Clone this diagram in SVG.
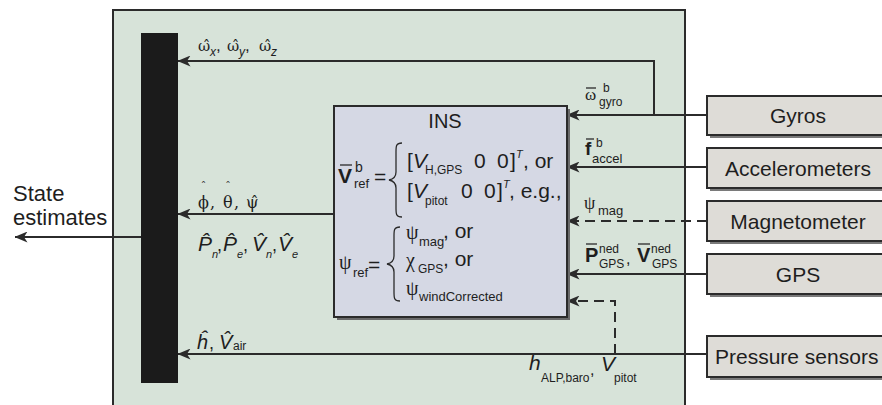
<svg xmlns="http://www.w3.org/2000/svg" width="882" height="405" viewBox="0 0 882 405">
<style>
text{font-family:"Liberation Sans",Arial,sans-serif;fill:#1e1e1e}
.g{font-family:"Liberation Serif","Times New Roman",serif}
.gh{font-family:"DejaVu Serif","Liberation Serif",serif}
.i{font-style:italic}
.b{font-weight:bold}
.ln{fill:none;stroke:#2b2b2b;stroke-width:2}
.dash{stroke-dasharray:10 6}
.bar{stroke:#2b2b2b;stroke-width:1.3}
.box{stroke:#2b2b2b;stroke-width:2}
.sen{fill:#dedcd7}
.sh{fill:#7a7a7a}
</style>
<defs>
<marker id="ah" viewBox="0 0 13 11" refX="12.5" refY="5.5" markerWidth="13" markerHeight="11" markerUnits="userSpaceOnUse" orient="auto">
<path d="M0,0 L13,5.5 L0,11 L3.5,5.5 z" fill="#2b2b2b"/>
</marker>
</defs>
<rect width="882" height="405" fill="#ffffff"/>
<g id="frame">
<rect x="113" y="10" width="572" height="410" fill="#d7e3d9" class="box"/>
</g>
<g id="estimator-bar">
<rect x="141" y="33" width="37" height="350" fill="#1b1b1b"/>
</g>
<g id="connectors">
<polyline class="ln" points="654,115 654,61 178,61" marker-end="url(#ah)"/>
<line class="ln" x1="707" y1="115" x2="567" y2="115" marker-end="url(#ah)"/>
<line class="ln" x1="707" y1="167" x2="567" y2="167" marker-end="url(#ah)"/>
<line class="ln dash" x1="707" y1="221" x2="567" y2="221" marker-end="url(#ah)"/>
<line class="ln" x1="707" y1="274" x2="567" y2="274" marker-end="url(#ah)"/>
<line class="ln" x1="707" y1="354" x2="178" y2="354" marker-end="url(#ah)"/>
<polyline class="ln dash" points="615,354 615,301 567,301" marker-end="url(#ah)"/>
<line class="ln" x1="334" y1="214" x2="178" y2="214" marker-end="url(#ah)"/>
<line class="ln" x1="141" y1="237" x2="15" y2="237" marker-end="url(#ah)"/>
</g>
<g id="ins">
<rect x="337" y="109" width="233" height="211" fill="#6a6a6a"/>
<rect x="334" y="106" width="233" height="211" fill="#d5d8e4" class="box"/>
<text x="445" y="128" font-size="20" text-anchor="middle">INS</text>
<line class="bar" x1="340" y1="165" x2="352" y2="165"/>
<text><tspan x="338" y="183" font-size="21" class="b">V</tspan><tspan x="355" y="172" font-size="14">b</tspan><tspan x="354" y="188" font-size="13">ref</tspan><tspan x="374" y="184" font-size="21">=</tspan></text>
<path d="M402,143 C396,143 396,146 396,152 L396,172 C396,177 394,179 389,180 C394,181 396,183 396,188 L396,208 C396,214 396,217 402,217" fill="none" stroke="#2b2b2b" stroke-width="1.3"/>
<text font-size="21"><tspan x="407" y="168">[</tspan><tspan x="413" y="168" class="i">V</tspan><tspan x="425" y="174" font-size="12">H,GPS</tspan><tspan x="474" y="168">0</tspan><tspan x="497" y="168">0</tspan><tspan x="510" y="168">]</tspan><tspan x="516" y="158" font-size="11" class="i">T</tspan><tspan x="523" y="168">, or</tspan></text>
<text font-size="21"><tspan x="407" y="198">[</tspan><tspan x="413" y="198" class="i">V</tspan><tspan x="425" y="205" font-size="12">pitot</tspan><tspan x="461" y="198">0</tspan><tspan x="484" y="198">0</tspan><tspan x="497" y="198">]</tspan><tspan x="503" y="188" font-size="11" class="i">T</tspan><tspan x="509" y="198">, e.g.,</tspan></text>
<text><tspan x="339" y="269" font-size="20" class="g">ψ</tspan><tspan x="353" y="277" font-size="13">ref</tspan><tspan x="368" y="272" font-size="21">=</tspan></text>
<path d="M400,227 C394,227 394,230 394,236 L394,256 C394,261 392,263 387,264 C392,265 394,267 394,272 L394,292 C394,298 394,301 400,301" fill="none" stroke="#2b2b2b" stroke-width="1.3"/>
<text><tspan x="406" y="239" font-size="20" class="g">ψ</tspan><tspan x="419" y="246" font-size="13">mag</tspan><tspan x="443" y="238" font-size="21">, or</tspan></text>
<text><tspan x="406" y="267" font-size="20" class="g">χ</tspan><tspan x="418" y="273" font-size="12">GPS</tspan><tspan x="443" y="266" font-size="21">, or</tspan></text>
<text><tspan x="406" y="295" font-size="20" class="g">ψ</tspan><tspan x="419" y="301" font-size="13">windCorrected</tspan></text>
</g>
<g id="gyros">
<rect x="710" y="99" width="185" height="39" class="sh"/>
<rect x="707" y="96" width="185" height="39" class="box sen"/>
<text x="798" y="123" font-size="21" text-anchor="middle">Gyros</text>
</g>
<g id="accelerometers">
<rect x="710" y="151" width="185" height="40" class="sh"/>
<rect x="707" y="148" width="185" height="40" class="box sen"/>
<text x="798" y="176" font-size="21" text-anchor="middle">Accelerometers</text>
</g>
<g id="magnetometer">
<rect x="710" y="204" width="185" height="40" class="sh"/>
<rect x="707" y="201" width="185" height="40" class="box sen"/>
<text x="798" y="229" font-size="21" text-anchor="middle">Magnetometer</text>
</g>
<g id="gps">
<rect x="710" y="257" width="185" height="40" class="sh"/>
<rect x="707" y="254" width="185" height="40" class="box sen"/>
<text x="798" y="282" font-size="21" text-anchor="middle">GPS</text>
</g>
<g id="pressure-sensors">
<rect x="710" y="339" width="185" height="41" class="sh"/>
<rect x="707" y="336" width="185" height="41" class="box sen"/>
<text x="715" y="364" font-size="21">Pressure sensors</text>
</g>
<g id="labels">
<text font-size="22"><tspan x="13" y="201">State</tspan><tspan x="13" y="225">estimates</tspan></text>
<text><tspan x="198" y="51" font-size="15" class="gh">ω̂</tspan><tspan x="210" y="56" font-size="12" class="i">x</tspan><tspan x="216" y="51" font-size="17">,</tspan><tspan x="227" y="51" font-size="15" class="gh">ω̂</tspan><tspan x="239" y="56" font-size="12" class="i">y</tspan><tspan x="245" y="51" font-size="17">,</tspan><tspan x="259" y="51" font-size="15" class="gh">ω̂</tspan><tspan x="271" y="56" font-size="12" class="i">z</tspan></text>
<text font-size="11" class="gh" text-anchor="middle"><tspan x="203.5" y="189.5">ˆ</tspan><tspan x="228" y="189.5">ˆ</tspan></text>
<text font-size="16" class="gh"><tspan x="198" y="208">ϕ</tspan><tspan x="210" y="208">,</tspan><tspan x="223" y="208">θ</tspan><tspan x="234" y="208">,</tspan><tspan x="246" y="208">ψ̂</tspan></text>
<text><tspan x="198" y="251" font-size="21" class="i">P̂</tspan><tspan x="212" y="258" font-size="11" class="i">n</tspan><tspan x="217" y="251" font-size="18">,</tspan><tspan x="223" y="251" font-size="21" class="i">P̂</tspan><tspan x="237" y="258" font-size="11" class="i">e</tspan><tspan x="243" y="251" font-size="18">,</tspan><tspan x="252" y="251" font-size="21" class="i">V̂</tspan><tspan x="266" y="258" font-size="11" class="i">n</tspan><tspan x="272" y="251" font-size="18">,</tspan><tspan x="278" y="251" font-size="21" class="i">V̂</tspan><tspan x="292" y="258" font-size="11" class="i">e</tspan></text>
<text><tspan x="197" y="349" font-size="20" class="i">ĥ</tspan><tspan x="209" y="349" font-size="18">,</tspan><tspan x="219" y="349" font-size="20" class="i">V̂</tspan><tspan x="233" y="350" font-size="12">air</tspan></text>
<line class="bar" x1="586" y1="88" x2="596" y2="88"/>
<text><tspan x="585" y="100" font-size="17" class="g">ω</tspan><tspan x="603" y="92" font-size="12">b</tspan><tspan x="599" y="106" font-size="12">gyro</tspan></text>
<line class="bar" x1="586" y1="139" x2="594" y2="139"/>
<text><tspan x="585" y="155" font-size="19" class="b">f</tspan><tspan x="596" y="147" font-size="12">b</tspan><tspan x="592" y="163" font-size="13">accel</tspan></text>
<text><tspan x="584" y="209" font-size="18" class="g">ψ</tspan><tspan x="598" y="215" font-size="13">mag</tspan></text>
<line class="bar" x1="586" y1="244" x2="597" y2="244"/>
<line class="bar" x1="638" y1="244" x2="650" y2="244"/>
<text><tspan x="585" y="262" font-size="20" class="b">P</tspan><tspan x="599" y="253" font-size="12">ned</tspan><tspan x="599" y="268" font-size="12">GPS</tspan><tspan x="626" y="264" font-size="16">,</tspan><tspan x="637" y="262" font-size="20" class="b">V</tspan><tspan x="651" y="253" font-size="12">ned</tspan><tspan x="652" y="268" font-size="12">GPS</tspan></text>
<text><tspan x="529" y="370" font-size="21" class="i">h</tspan><tspan x="541" y="382" font-size="12">ALP,baro</tspan><tspan x="590" y="375" font-size="16">,</tspan><tspan x="601" y="371" font-size="21" class="i">V</tspan><tspan x="614" y="382" font-size="12">pitot</tspan></text>
</g>
</svg>
